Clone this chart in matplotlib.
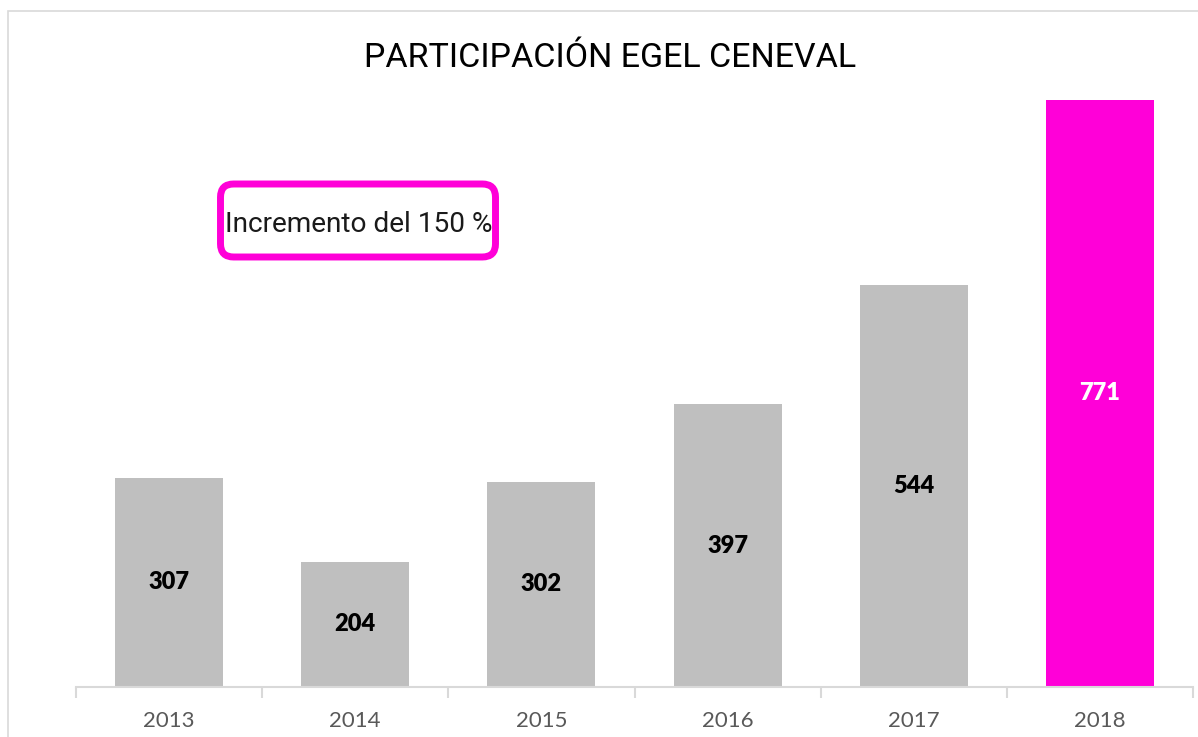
import matplotlib
matplotlib.use("Agg")
import matplotlib.pyplot as plt
from matplotlib.patches import Rectangle, FancyBboxPatch

# data
years = ["2013", "2014", "2015", "2016", "2017", "2018"]
participantes = [307, 204, 302, 397, 544, 771]
bar_colors = ["#BFBFBF", "#BFBFBF", "#BFBFBF", "#BFBFBF", "#BFBFBF", "#FF00D8"]
label_colors = ["black", "black", "black", "black", "black", "white"]

title = "PARTICIPACIÓN EGEL CENEVAL"
note = "Incremento del 150 %"

narrow = ["Roboto", "Liberation Sans", "DejaVu Sans"]
W, H = 1198, 737

fig = plt.figure(figsize=(W / 100, H / 100), dpi=100)
ax = fig.add_axes([76 / W, 1 - 687 / H, (1193 - 76) / W, (687 - 76) / H])

x = range(len(years))
bars = ax.bar(x, participantes, width=0.58, color=bar_colors, zorder=2)
ax.set_ylim(50, 800)
ax.set_xlim(-0.5, len(years) - 0.5)

for b, v, c in zip(bars, participantes, label_colors):
    ax.text(b.get_x() + b.get_width() / 2, (50 + v) / 2, str(v), ha="center", va="center",
            fontsize=17, fontweight="heavy", color=c, family=["Lato", "DejaVu Sans"])

# axis styling
for s in ["top", "right", "left"]:
    ax.spines[s].set_visible(False)
ax.spines["bottom"].set_color("#D9D9D9")
ax.spines["bottom"].set_linewidth(1.5)
ax.set_yticks([])
ax.set_xticks(x)
ax.set_xticklabels(years, fontsize=16, color="#595959", family=["Lato", "DejaVu Sans"])
ax.tick_params(axis="x", length=0, pad=17)
ax.set_xticks([i - 0.5 for i in range(len(years) + 1)], minor=True)
ax.tick_params(axis="x", which="minor", length=8, color="#D9D9D9", width=1.5)

# title
fig.text(610 / W, 1 - 67 / H, title, ha="center", va="baseline", fontsize=24.5,
         family=narrow, color="black")

# note box
box = FancyBboxPatch((220.5 / W, 1 - 257 / H), (495.5 - 220.5) / W, (257 - 184) / H,
                     boxstyle="round,pad=0,rounding_size=0.011", mutation_aspect=W / H,
                     transform=fig.transFigure,
                     facecolor="white", edgecolor="#FF00D8", linewidth=5)
fig.patches.append(box)
fig.text(358.5 / W, 1 - 232 / H, note, ha="center", va="baseline", fontsize=20.2,
         family=narrow, color="#1A1A1A")

# outer border
fig.patches.append(Rectangle((8 / W, -0.1), 1.2, 1 - 11 / H + 0.1, transform=fig.transFigure,
                             fill=False, edgecolor="#D9D9D9", linewidth=1.2))

fig.savefig("out.png", dpi=100)
